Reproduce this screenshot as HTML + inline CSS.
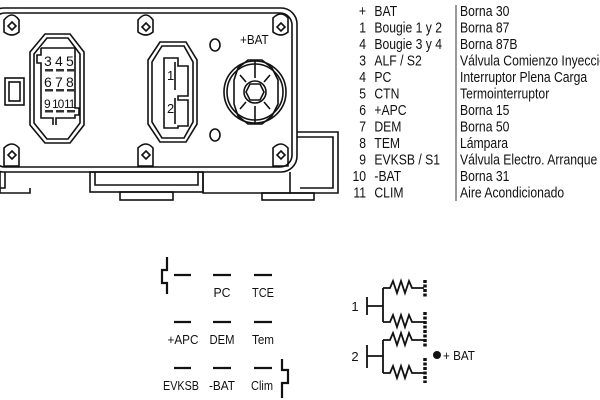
<!DOCTYPE html>
<html><head><meta charset="utf-8"><style>
html,body{margin:0;padding:0;background:#fff;width:600px;height:400px;overflow:hidden}
svg{display:block}
text{font-family:"Liberation Sans",sans-serif;fill:#111}
</style></head><body>
<svg width="600" height="400" viewBox="0 0 600 400" xmlns="http://www.w3.org/2000/svg">
<g fill="none" stroke="#111" stroke-width="1.6">
 <rect x="-12" y="8" width="309" height="164" rx="16"/>
 <rect x="-7" y="13" width="299" height="154" rx="12"/>
 <path d="M0 172 V193 H30 V188"/>
 <path d="M5 172 V188 H-5"/>
 <rect x="90" y="172" width="113" height="20"/>
 <path d="M95 172 V185 H198 V172"/>
 <rect x="120" y="192" width="53" height="8"/>
 <rect x="262" y="193" width="52" height="7"/>
 <path d="M203 172 V193 H290 V172"/>
 <path d="M297 132 H338 V193 H290"/>
 <path d="M297 137 H333 V188 H300"/>
 <g>
  <path d="M4 20 Q12 10 19 20 V32 Q12 38 4 32 Z"/><path d="M12 22 l4 4 l-4 4 l-4 -4z"/>
  <path d="M138 20 Q146 10 153 20 V32 Q146 38 138 32 Z"/><path d="M146 23 l4 4 l-4 4 l-4 -4z"/>
  <path d="M273 18 Q281 10 288 18 V32 Q281 38 273 32 Z"/><path d="M281 23 l4 4 l-4 4 l-4 -4z"/>
  <path d="M4 148 Q12 140 19 148 V166 H4 Z"/><path d="M12 151 l4 4 l-4 4 l-4 -4z"/>
  <path d="M138 148 Q146 140 153 148 V166 H138 Z"/><path d="M146 151 l4 4 l-4 4 l-4 -4z"/>
  <path d="M273 148 Q281 140 288 148 V166 H273 Z"/><path d="M281 151 l4 4 l-4 4 l-4 -4z"/>
 </g>
 <rect x="5" y="78" width="19" height="27"/>
 <rect x="9" y="82" width="11" height="19"/>
 <path d="M45 34 H70 L84 52 V125 L70 143 H45 L30 125 V52 Z"/>
 <path d="M47 38 H68 L80 54 V123 L68 139 H47 L34 123 V54 Z"/>
 <path d="M41 48 H75 V108 H79 V115 H75 V118 H56 V125 M53 125 V118 H41 V63 H37 V55 H41 V48"/>
 <path d="M160 42 H186 L197 60 V124 L186 142 H160 L148 124 V60 Z"/>
 <path d="M162 46 H184 L193 62 V122 L184 138 H162 L152 122 V62 Z"/>
 <path d="M164 58 H178 V66 H188 V96 H178 V100 H188 V126 H178 V128 H164 Z"/>
 <line x1="175" y1="62" x2="175" y2="90"/><line x1="175" y1="98" x2="175" y2="124"/>
 <ellipse cx="215" cy="45" rx="5" ry="6"/>
 <ellipse cx="215" cy="135" rx="5" ry="6"/>
 <circle cx="255" cy="92" r="31"/>
 <circle cx="255" cy="92" r="28"/>
 <path d="M238 68 L248 60 H262 L272 68 L278 80 V104 L272 116 L262 124 H248 L238 116 L234 104 V80 Z"/>
 <circle cx="255" cy="92" r="11"/>
 <path d="M250 84 H260 L264 92 L260 100 H250 L246 92 Z"/>
 <line x1="255" y1="60" x2="255" y2="78"/><line x1="255" y1="106" x2="255" y2="124"/>
 <path d="M240 75 L246 82 M270 75 L264 82 M240 109 L246 102 M270 109 L264 102"/>
</g>
<g fill="#333">
 <rect x="45" y="69" width="8" height="2.5"/><rect x="56" y="69" width="8" height="2.5"/><rect x="67" y="69" width="8" height="2.5"/>
 <rect x="45" y="89" width="8" height="2.5"/><rect x="56" y="89" width="8" height="2.5"/><rect x="67" y="89" width="8" height="2.5"/>
 <rect x="45" y="110" width="8" height="2.5"/><rect x="56" y="110" width="8" height="2.5"/><rect x="67" y="110" width="8" height="2.5"/>
</g>
<g font-size="14">
 <text x="44" y="66">3</text><text x="55" y="66">4</text><text x="66" y="66">5</text>
 <text x="44" y="87">6</text><text x="55" y="87">7</text><text x="66" y="87">8</text>
 <text x="44" y="108" font-size="12" letter-spacing="-1">9</text><text x="52" y="108" font-size="12" letter-spacing="-1">10</text><text x="64" y="108" font-size="12" letter-spacing="-1">11</text>
 <text x="167" y="80" font-size="13">1</text><text x="167" y="113" font-size="13">2</text>
 <text x="240" y="44" font-size="13" transform="translate(240 0) scale(0.9 1) translate(-240 0)">+BAT</text>
</g>
<g font-size="14.5" transform="translate(345 0) scale(0.84 1) translate(-345 0)">
 <text x="370" y="16" text-anchor="end">+</text><text x="380" y="16">BAT</text>
 <text x="370" y="32.5" text-anchor="end">1</text><text x="380" y="32.5">Bougie 1 y 2</text>
 <text x="370" y="49" text-anchor="end">4</text><text x="380" y="49">Bougie 3 y 4</text>
 <text x="370" y="65.5" text-anchor="end">3</text><text x="380" y="65.5">ALF / S2</text>
 <text x="370" y="82" text-anchor="end">4</text><text x="380" y="82">PC</text>
 <text x="370" y="98.5" text-anchor="end">5</text><text x="380" y="98.5">CTN</text>
 <text x="370" y="115" text-anchor="end">6</text><text x="380" y="115">+APC</text>
 <text x="370" y="131.5" text-anchor="end">7</text><text x="380" y="131.5">DEM</text>
 <text x="370" y="148" text-anchor="end">8</text><text x="380" y="148">TEM</text>
 <text x="370" y="164.5" text-anchor="end">9</text><text x="380" y="164.5">EVKSB / S1</text>
 <text x="370" y="181" text-anchor="end">10</text><text x="380" y="181">-BAT</text>
 <text x="370" y="197.5" text-anchor="end">11</text><text x="380" y="197.5">CLIM</text>
</g>
<g font-size="14.5" transform="translate(460 0) scale(0.84 1) translate(-460 0)">
 <text x="460" y="16">Borna 30</text>
 <text x="460" y="32.5">Borna 87</text>
 <text x="460" y="49">Borna 87B</text>
 <text x="460" y="65.5">Válvula Comienzo Inyeccion</text>
 <text x="460" y="82">Interruptor Plena Carga</text>
 <text x="460" y="98.5">Termointerruptor</text>
 <text x="460" y="115">Borna 15</text>
 <text x="460" y="131.5">Borna 50</text>
 <text x="460" y="148">Lámpara</text>
 <text x="460" y="164.5">Válvula Electro. Arranque</text>
 <text x="460" y="181">Borna 31</text>
 <text x="460" y="197.5">Aire Acondicionado</text>
</g>
<line x1="456" y1="5" x2="456" y2="201" stroke="#333" stroke-width="1"/>
<g stroke="#111" stroke-width="2.2" fill="none">
 <path d="M167 257 V270 H162 V283 H167 V294"/>
 <path d="M282 359 V370 H288 V383 H282 V398"/>
 <path d="M174 275 H191 M213 275 H231 M254 275 H272"/>
 <path d="M174 322 H191 M213 322 H231 M254 322 H272"/>
 <path d="M174 368 H191 M213 368 H231 M254 368 H272"/>
</g>
<g font-size="13" text-anchor="middle">
 <text x="222" y="297" textLength="17" lengthAdjust="spacingAndGlyphs">PC</text>
 <text x="263" y="297" textLength="22" lengthAdjust="spacingAndGlyphs">TCE</text>
 <text x="183" y="344" textLength="31" lengthAdjust="spacingAndGlyphs">+APC</text>
 <text x="222" y="344" textLength="25" lengthAdjust="spacingAndGlyphs">DEM</text>
 <text x="263" y="344" textLength="22" lengthAdjust="spacingAndGlyphs">Tem</text>
 <text x="181" y="390" textLength="36" lengthAdjust="spacingAndGlyphs">EVKSB</text>
 <text x="222" y="390" textLength="26" lengthAdjust="spacingAndGlyphs">-BAT</text>
 <text x="262" y="390" textLength="22" lengthAdjust="spacingAndGlyphs">Clim</text>
</g>
<g stroke="#111" stroke-width="1.8" fill="none">
 <path d="M367 297 V315 M367 306 H383 M383 288 V322"/>
 <path d="M367 345 V368 M367 356 H383 M383 340 V373"/>
 <path d="M383 288 H390 l3 -7 l4 12 l4 -12 l4 12 l4 -12 l3 7 H424"/>
 <path d="M383 322 H390 l3 -7 l4 12 l4 -12 l4 12 l4 -12 l3 7 H424"/>
 <path d="M383 340 H390 l3 -7 l4 12 l4 -12 l4 12 l4 -12 l3 7 H424"/>
 <path d="M383 373 H390 l3 -7 l4 12 l4 -12 l4 12 l4 -12 l3 7 H424"/>
</g>
<g stroke="#111" stroke-width="3.5" stroke-dasharray="3 1.5">
 <line x1="425" y1="280" x2="425" y2="297"/>
 <line x1="425" y1="312" x2="425" y2="348"/>
 <line x1="425" y1="358" x2="425" y2="383"/>
</g>
<circle cx="437" cy="355" r="4" fill="#111"/>
<text x="355" y="311" font-size="13" text-anchor="middle">1</text>
<text x="355" y="361" font-size="13" text-anchor="middle">2</text>
<text x="443" y="360" font-size="13" transform="translate(443 0) scale(0.9 1) translate(-443 0)">+ BAT</text>
</svg>
</body></html>
